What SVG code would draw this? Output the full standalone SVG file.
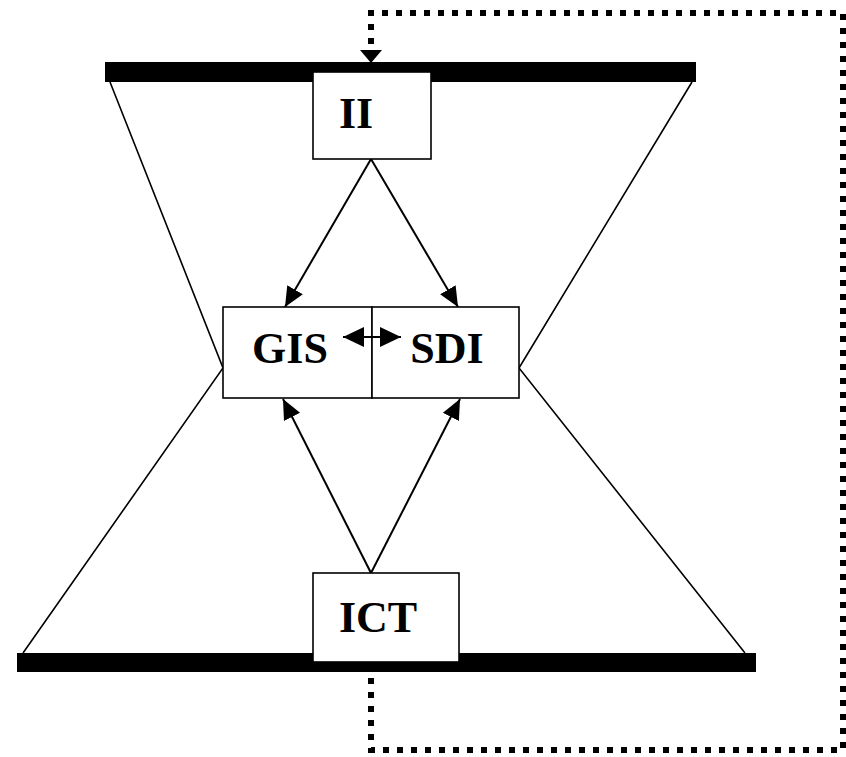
<svg xmlns="http://www.w3.org/2000/svg" width="846" height="757" viewBox="0 0 846 757">
<style>
.bar{fill:#000}
.box{fill:#fff;stroke:#000;stroke-width:1.6}
.lbl{font-family:"Liberation Serif","Times New Roman",serif;font-weight:bold;font-size:44px;fill:#000;text-anchor:middle}
.thin{fill:none;stroke:#000;stroke-width:1.6}
.arr{fill:none;stroke:#000;stroke-width:2}
.dot{fill:none;stroke:#000;stroke-width:6;stroke-dasharray:6 8}
</style>
<defs>
<marker id="ah" markerUnits="userSpaceOnUse" markerWidth="24" markerHeight="20" refX="20" refY="9" orient="auto" viewBox="0 0 24 18">
<path d="M0,0 L20,9 L0,18 Z" fill="#000"/>
</marker>
<marker id="ahs" markerUnits="userSpaceOnUse" markerWidth="24" markerHeight="20" refX="18" refY="8.5" orient="auto-start-reverse" viewBox="0 0 20 17">
<path d="M0,0 L18,8.5 L0,17 Z" fill="#000"/>
</marker>
<marker id="ahd" markerUnits="userSpaceOnUse" markerWidth="24" markerHeight="24" refX="12" refY="11" orient="auto" viewBox="0 0 14 22">
<path d="M0,0 L12,11 L0,22 Z" fill="#000"/>
</marker>
</defs>
<g id="frame">
<rect class="bar" x="105" y="62" width="591" height="20"/>
<rect class="bar" x="17" y="653" width="739" height="19"/>
<polyline class="thin" points="110,82 223,368 23,653"/>
<polyline class="thin" points="692,82 519,368 745,653"/>
</g>
<g id="connectors">
<line class="arr" x1="371" y1="159" x2="285" y2="307" marker-end="url(#ah)"/>
<line class="arr" x1="371" y1="159" x2="458" y2="307" marker-end="url(#ah)"/>
<line class="arr" x1="371" y1="573" x2="283" y2="399" marker-end="url(#ah)"/>
<line class="arr" x1="371" y1="573" x2="460" y2="399" marker-end="url(#ah)"/>
<path class="dot" d="M371,678 L371,750 L843,750 L843,13 L371,13 L371,52"/>
<polygon points="360,50 382,50 371,63" fill="#000"/>
</g>
<g id="II">
<rect class="box" x="313" y="72" width="118" height="87"/>
<text class="lbl" x="356" y="128">II</text>
</g>
<g id="GIS">
<rect class="box" x="223" y="307" width="149" height="91"/>
<text class="lbl" x="290" y="363">GIS</text>
</g>
<g id="SDI">
<rect class="box" x="372" y="307" width="147" height="91"/>
<text class="lbl" x="447" y="363">SDI</text>
</g>
<g id="ICT">
<rect class="box" x="313" y="573" width="146" height="89"/>
<text class="lbl" x="378" y="632">ICT</text>
</g>
<g id="link">
<line class="arr" x1="343" y1="337" x2="401" y2="337" marker-start="url(#ahs)" marker-end="url(#ahs)"/>
</g>
</svg>
